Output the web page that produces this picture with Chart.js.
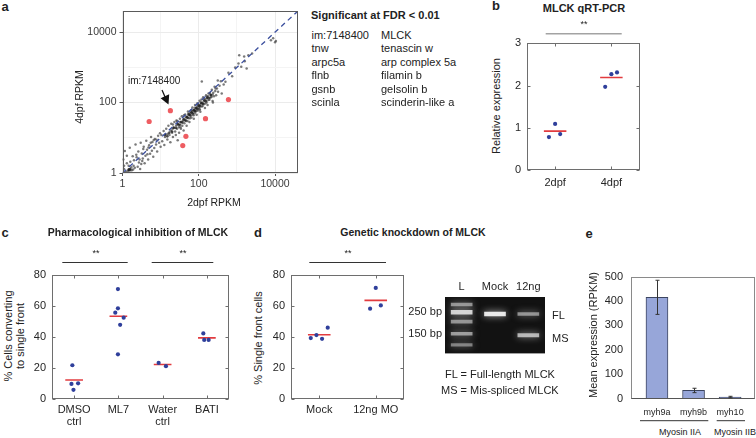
<!DOCTYPE html>
<html><head><meta charset="utf-8">
<script src="https://cdn.jsdelivr.net/npm/chart.js@4.4.1/dist/chart.umd.min.js"></script>
<style>
html,body{margin:0;padding:0;background:#fff;}
body{width:756px;height:438px;overflow:hidden;position:relative;font-family:"Liberation Sans",Arial,Helvetica,sans-serif;color:#222;}
.t{position:absolute;white-space:nowrap;line-height:1.1;}
canvas{position:absolute;}
svg{position:absolute;left:0;top:0;}
</style></head><body>
<script>
// ---------------- DATA ----------------
// Panel a: RNA-seq RPKM (2dpf, 4dpf)
const aBackgroundPoints = [
 [1.1,1.3],[1.05,2.4],[1.15,4.2],[1.25,1.1],[1.3,3.1],[1.45,1.6],[1.55,5.2],[1.6,2.1],[1.75,1.2],[1.85,3.0],
 [2.0,2.3],[2.1,1.4],[2.2,6.5],[2.35,2.8],[2.5,1.5],[2.6,4.1],[2.8,2.4],[3.0,7.2],[3.1,1.8],[3.2,3.6],
 [3.4,2.6],[3.6,5.6],[3.8,1.9],[4.0,3.1],[4.2,8.3],[4.4,4.6],[4.7,2.4],[5.0,6.1],[5.3,3.5],[5.6,10.5],
 [5.9,4.3],[6.1,7.6],[6.4,2.9],[6.8,5.1],[7.1,9.2],[7.6,6.4],[8.1,4.1],[8.6,11.5],[9.1,7.2],[9.6,13.5],
 [10,5.6],[1.5,1.3],[1.6,1.2],[1.7,1.45],[1.95,1.6],[1.3,1.9],[2.3,3.3],[1.2,1.02],[3.5,4.8],[4.8,5.3],
 [2.7,2.0],[6.6,8.6],[1.4,1.15],[1.9,1.25],[2.9,1.3],[1.1,1.6],[3.3,2.2],[5.5,7.2],[7.8,8.8],[4.5,3.4],
 [10.5,12],[11,8],[12,15.5],[12.5,6.2],[13,10.5],[14,18],[15,9],[15.5,13],[16,22],[17,12],
 [18,7.5],[18.5,16],[19,25],[20,14],[20.5,18],[21,10.5],[22,20],[23,28],[24,15],[25,12],
 [25.5,22],[26,31],[27,18],[28,8.5],[28.5,25],[30,20],[30.5,14],[32,35],[32.5,24],[34,18],
 [35,28],[36,41],[37,22],[38,30],[40,16],[40.5,35],[42,26],[44,46],[45,32],[46,38],
 [48,22],[50,40],[50.5,30],[52,56],[54,36],[55,45],[57,28],[58,50],[60,42],[62,61],
 [64,38],[65,52],[68,72],[70,46],[72,58],[74,35],[76,63],[78,50],[80,86],[82,55],
 [85,68],[88,45],[90,76],[92,96],[95,60],[98,81],[100,70],[105,112],[108,86],[110,55],
 [115,96],[118,122],[120,78],[125,101],[130,142],[135,90],[140,116],[145,70],[150,126],[155,162],
 [160,101],[165,136],[170,86],[175,151],[180,182],[190,121],[200,166],[210,141],[220,232],[230,111],
 [240,191],[250,152],[260,282],[270,212],[285,161],[300,252],[320,202],[350,302],[380,405],[400,182],
 [120,400],[315,425],[450,325],[275,250],[230,170],[107,63],[235,100],
 [500,390],[600,700],[750,560],[900,1000],[1100,1300],[1300,1050],[1600,1500],[1150,2200],[1550,2050],[2000,2200],
 [1800,930],[2500,2500],[8900,6700],[10000,5200],[7800,5900],[10500,5600],
 [14,12.5],[21,24],[27,30],[33,20],[41,44],[47,30],[53,48],[59,36],[66,60],[73,44],[79,71],[87,58],
 [96,90],[104,66],[113,103],[126,80],[137,128],[148,94],[162,150],[178,118],[196,186],[215,150]
];
const aDensePoints = [
 [13,12],[15,11],[17,14],[20,15],[22,19],[25,19],[28,24],[31,23],[33,28],[37,27],
 [40,33],[44,31],[48,39],[51,37],[55,46],[60,44],[64,53],[69,50],[74,61],[80,58],
 [86,70],[92,66],[100,82],[108,78],[118,96],[128,92],[140,112],[155,110],[170,138],[190,135],
 [210,165],[1.5,1.2],[1.6,1.3],[1.45,1.25]
];
const aSignificantPoints = [[5,29],[18,59],[600,122],[150,35],[46,11],[38,6]];
const aTickValues = [1,10,100,1000,10000];
const aTickLabels = ['1','','100','','10000'];
const aSignificantGenes = ['im:7148400','tnw','arpc5a','flnb','gsnb','scinla'];
const aGeneNames = ['MLCK','tenascin w','arp complex 5a','filamin b','gelsolin b','scinderin-like a'];

// Panel b: MLCK qRT-PCR
const bCategories = ['2dpf','4dpf'];
const bValues = [[0.78,1.09,0.85],[1.97,2.27,2.31]];
const bJitter = [[-0.11,0,0.09],[-0.11,0,0.1]];
const bMeans = [0.92,2.19];

// Panel c: pharmacological inhibition
const cCategories = [['DMSO','ctrl'],'ML7',['Water','ctrl'],'BATI'];
const cValues = [[21.7,9.7,10.1,5.9],[70.7,58.3,55.5,52.3,47.7,28.7],[23.2,21.1],[42.2,38.0,38.0]];
const cJitter = [[-0.04,-0.06,0.09,-0.015],[-0.01,-0.01,-0.07,0.12,0.04,-0.01],[-0.09,0.075],[-0.08,-0.06,0.04]];
const cMeans = [12.2,53.2,22.2,39.3];

// Panel d: genetic knockdown
const dCategories = ['Mock','12ng MO'];
const dValues = [[39.2,41.1,38.7,45.9],[58.1,71.4,60.2]];
const dJitter = [[-0.15,-0.05,0.05,0.15],[-0.1,0,0.09]];
const dMeans = [41.3,63.4];

// Gel
const gelLanes = ['L','Mock','12ng'];
const gelLadderBp = [300,250,200,150,115];
const gelLadderIntensity = [0.55,0.9,0.55,0.6,0.45];
const gelMockBp = [240];
const gelMockIntensity = [1.0];
const gel12ngBp = [240,145];
const gel12ngIntensity = [0.55,0.75];
const gelMarkerBp = [150,250];
const gelMarkerLabels = ['150 bp','250 bp'];

// Panel e: myosin expression
const eGenes = ['myh9a','myh9b','myh10'];
const eMeans = [415,33,6];
const eErrors = [70,9,3];

// ---------------- HELPERS ----------------
const FONT='"Liberation Sans", Arial, Helvetica, sans-serif';
Chart.defaults.font.family=FONT;
Chart.defaults.color='#262626';

function text(s,x,y,o={}){
  const d=document.createElement('div');
  d.className='t';
  if(Array.isArray(s)) d.innerHTML=s.join('<br>'); else d.textContent=s;
  d.style.left=x+'px'; d.style.top=y+'px';
  d.style.fontSize=(o.size||11)+'px';
  if(o.bold) d.style.fontWeight='bold';
  if(o.center) d.style.textAlign='center';
  let tr=o.left?'translate(0,-50%)':'translate(-50%,-50%)';
  if(o.rot) tr+=' rotate(-90deg)';
  d.style.transform=tr;
  document.body.appendChild(d);
}

function mk(L,T,W,H,area,cfg,xTop){
  const c=document.createElement('canvas');
  c.width=W;c.height=H;
  c.style.left=L+'px';c.style.top=T+'px';c.style.width=W+'px';c.style.height=H+'px';
  document.body.appendChild(c);
  const o=cfg.options;
  o.responsive=false;o.animation=false;o.maintainAspectRatio=false;
  o.plugins=Object.assign({legend:{display:false},tooltip:{enabled:false}},o.plugins||{});
  if(xTop){
    o.layout={padding:{top:0,right:L+W-area.r,left:0,bottom:T+H-area.b}};
    o.scales.x.afterFit=s=>{s.height=area.t-T;};
  }else{
    o.layout={padding:{top:area.t-T,right:L+W-area.r,left:0,bottom:0}};
    o.scales.x.afterFit=s=>{s.height=T+H-area.b;};
  }
  o.scales.y.afterFit=s=>{s.width=area.l-L;};
  return new Chart(c,cfg);
}

function frame(color,inward,bottomColor){
  return {id:'frame',afterDatasetsDraw(chart){
    const {ctx,chartArea:a,scales}=chart;
    ctx.save();ctx.strokeStyle=color;ctx.lineWidth=1;
    const L=Math.round(a.left)+0.5,R=Math.round(a.right)-0.5,Tp=Math.round(a.top)+0.5,B=Math.round(a.bottom)-0.5;
    ctx.strokeRect(L,Tp,R-L,B-Tp);
    if(inward){
      ctx.beginPath();
      scales.y.ticks.forEach(t=>{const y=Math.round(scales.y.getPixelForValue(t.value))+0.5;
        ctx.moveTo(L,y);ctx.lineTo(L+inward,y);ctx.moveTo(R,y);ctx.lineTo(R-inward,y);});
      scales.x.ticks.forEach(t=>{const x=Math.round(scales.x.getPixelForValue(t.value))+0.5;
        ctx.moveTo(x,B);ctx.lineTo(x,B-inward);ctx.moveTo(x,Tp);ctx.lineTo(x,Tp+inward);});
      ctx.stroke();
    }
    if(bottomColor){ctx.strokeStyle=bottomColor;ctx.beginPath();ctx.moveTo(L,B);ctx.lineTo(R,B);ctx.stroke();}
    ctx.restore();
  }};
}

const DOT='#2f3f9b', RED='#e23b3f';
function dotPlot(L,T,W,H,area,cats,values,jitter,means,ymax,ystep,labelPad){
  const ds=[{
    type:'scatter',
    data:values.flatMap((arr,i)=>arr.map((v,j)=>({x:i+1+jitter[i][j],y:v}))),
    backgroundColor:DOT,pointRadius:2.1,borderWidth:0
  }];
  means.forEach((m,i)=>ds.push({type:'line',data:[{x:i+1-0.2,y:m},{x:i+1+0.2,y:m}],
    borderColor:RED,borderWidth:1.6,pointRadius:0}));
  return mk(L,T,W,H,area,{type:'scatter',data:{datasets:ds},plugins:[frame('#6e6e6e',3)],
    options:{scales:{
      x:{type:'linear',min:0.5,max:cats.length+0.5,
        afterBuildTicks:s=>{s.ticks=cats.map((_,i)=>({value:i+1}));},
        ticks:{callback:(v,i)=>cats[i],font:{size:11,lineHeight:1.1},padding:labelPad,autoSkip:false,maxRotation:0,color:'#262626'},
        grid:{display:false,drawTicks:false},border:{display:false}},
      y:{type:'linear',min:0,max:ymax,ticks:{stepSize:ystep,font:{size:11},padding:6,color:'#262626'},
        grid:{display:false,drawTicks:false},border:{display:false}}
    }}});
}

// ---------------- PANEL A ----------------
mk(65,0,245,200,{l:122.5,t:11,r:298,b:173},{
  type:'scatter',
  data:{datasets:[
    {data:aSignificantPoints.map(p=>({x:p[0],y:p[1]})),backgroundColor:'#ee5d62',pointRadius:2.6,borderWidth:0},
    {type:'line',data:[{x:1,y:1},{x:40000,y:40000}],borderColor:'#3b4f9e',borderDash:[5,4],borderWidth:1.3,pointRadius:0},
    {data:aDensePoints.map(p=>({x:p[0],y:p[1]})),backgroundColor:'rgba(30,30,30,0.8)',pointRadius:1.3,borderWidth:0},
    {data:aBackgroundPoints.map(p=>({x:p[0],y:p[1]})),backgroundColor:'rgba(70,70,70,0.72)',pointRadius:1.25,borderWidth:0}
  ]},
  plugins:[frame('#5a5a5a',0)],
  options:{scales:{
    x:{type:'logarithmic',min:1,max:40000,
      afterBuildTicks:s=>{s.ticks=aTickValues.map(v=>({value:v}));},
      ticks:{callback:(v,i)=>aTickLabels[i],font:{size:10.5},padding:2,autoSkip:false,maxRotation:0,color:'#3a3a3a'},
      grid:{color:c=>aTickLabels[c.index]?'#ebebeb':'#f4f4f4',tickColor:c=>aTickLabels[c.index]?'#555':'rgba(0,0,0,0)',tickLength:3,drawTicks:true},
      border:{display:false}},
    y:{type:'logarithmic',min:1,max:40000,
      afterBuildTicks:s=>{s.ticks=aTickValues.map(v=>({value:v}));},
      ticks:{callback:(v,i)=>aTickLabels[i],font:{size:10.5},padding:3,autoSkip:false,color:'#3a3a3a'},
      grid:{color:c=>aTickLabels[c.index]?'#ebebeb':'#f4f4f4',tickColor:c=>aTickLabels[c.index]?'#555':'rgba(0,0,0,0)',tickLength:3,drawTicks:true},
      border:{display:false}}
  }}
});

// ---------------- PANEL B ----------------
dotPlot(505,30,145,165,{l:527,t:43.3,r:639.5,b:170},bCategories,bValues,bJitter,bMeans,3,1,6.5);
// ---------------- PANEL C ----------------
dotPlot(30,262,205,170,{l:52,t:272.7,r:229,b:399},cCategories,cValues,cJitter,cMeans,80,20,5);
// ---------------- PANEL D ----------------
dotPlot(268,262,145,170,{l:291,t:272.7,r:404,b:399},dCategories,dValues,dJitter,dMeans,80,20,5);

// ---------------- GEL ----------------
(function(){
  const bands=[];
  const add=(lane,bps,ints)=>bps.forEach((bp,k)=>bands.push({lane,bp,i:ints[k]}));
  add('L',gelLadderBp,gelLadderIntensity);
  add('Mock',gelMockBp,gelMockIntensity);
  add('12ng',gel12ngBp,gel12ngIntensity);
  const ds=bands.map(b=>{const f=1.02+0.028*b.i;const g=Math.round(150+100*b.i);return {
    data:gelLanes.map(l=>l===b.lane?[b.bp/f,b.bp*f]:null),
    backgroundColor:'rgba('+g+','+g+','+g+','+(0.3+0.6*b.i)+')',borderWidth:0,
    grouped:false,barThickness:21};});
  const gelBg={id:'gelbg',beforeDatasetsDraw(chart){const {ctx,chartArea:a}=chart;
      ctx.save();ctx.fillStyle='#121212';ctx.fillRect(a.left,a.top,a.right-a.left,a.bottom-a.top);
      ctx.shadowColor='rgba(210,210,210,0.9)';ctx.shadowBlur=7;},
    afterDatasetsDraw(chart){chart.ctx.restore();}};
  mk(398,277,152,86,{l:445,t:297,r:545,b:360},{type:'bar',data:{labels:gelLanes,datasets:ds},plugins:[gelBg],
    options:{scales:{
      x:{type:'category',position:'top',offset:true,ticks:{font:{size:11},padding:3,color:'#262626'},grid:{display:false,drawTicks:false},border:{display:false}},
      y:{type:'logarithmic',min:94,max:359,afterBuildTicks:s=>{s.ticks=gelMarkerBp.map(v=>({value:v}));},
        ticks:{callback:(v,i)=>gelMarkerLabels[i],font:{size:11},padding:3,color:'#262626'},grid:{display:false,drawTicks:false},border:{display:false}}
    }}},true);
})();

// ---------------- PANEL E ----------------
const errPlugin={id:'err',afterDatasetsDraw(chart){
  const {ctx,scales:{x,y}}=chart;ctx.save();ctx.strokeStyle='#333';ctx.lineWidth=1;
  eMeans.forEach((m,i)=>{const px=Math.round(x.getPixelForValue(i+1))+0.5;
    const y1=y.getPixelForValue(m+eErrors[i]),y2=y.getPixelForValue(m-eErrors[i]);
    ctx.beginPath();ctx.moveTo(px,y1);ctx.lineTo(px,y2);
    ctx.moveTo(px-2,y1);ctx.lineTo(px+2,y1);ctx.moveTo(px-2,y2);ctx.lineTo(px+2,y2);ctx.stroke();});
  ctx.restore();}};
mk(600,262,156,160,{l:631,t:273,r:755,b:398.5},{
  type:'bar',
  data:{datasets:[{data:eMeans.map((v,i)=>({x:i+1,y:v})),backgroundColor:'#97a6d9',borderColor:'#3c4560',borderWidth:1,barThickness:22}]},
  plugins:[frame('#8a8a8a',0,'#555'),errPlugin],
  options:{scales:{
    x:{type:'linear',offset:false,min:0.29,max:3.68,afterBuildTicks:s=>{s.ticks=eGenes.map((_,i)=>({value:i+1}));},
      ticks:{callback:(v,i)=>eGenes[i],font:{size:9},padding:9,autoSkip:false,maxRotation:0,color:'#262626'},
      grid:{display:false,drawTicks:false,offset:false},border:{display:false}},
    y:{type:'linear',min:0,max:500,ticks:{stepSize:100,font:{size:11},padding:8,color:'#262626'},
      grid:{display:false,drawTicks:false},border:{display:false}}
  }}
});

// ---------------- TEXT ----------------
text('a',5,7,{size:13,bold:true});
text('b',496,6,{size:13,bold:true});
text('c',5,233,{size:13,bold:true});
text('d',258,233,{size:13,bold:true});
text('e',589,234,{size:13,bold:true});

// panel a
text('2dpf RPKM',214,203,{size:10.5});
text('4dpf RPKM',80,97,{size:10.5,rot:true});
text('im:7148400',128,80,{size:10,left:true});
text('Significant at FDR < 0.01',311,15,{size:11,bold:true,left:true});
const rowY=[34.5,48,61.5,75,88.5,102];
aSignificantGenes.forEach((g,i)=>{text(g,311.5,rowY[i],{left:true});text(aGeneNames[i],381,rowY[i],{left:true});});

// panel b
text('MLCK qRT-PCR',584,7.5,{size:11,bold:true});
text('**',584,25,{size:9});
text('Relative expression',496,106,{rot:true});

// panel c
text('Pharmacological inhibition of MLCK',138,233,{size:10.5,bold:true});
text('**',96,254,{size:9});
text('**',183,254,{size:9});
text(['% Cells converting','to single front'],13.5,336,{rot:true,center:true});

// panel d
text('Genetic knockdown of MLCK',413,233,{size:10.5,bold:true});
text('**',348,254,{size:9});
text('% Single front cells',258,338,{rot:true});
text('FL',552,315,{left:true});
text('MS',552,338,{left:true});
text('FL = Full-length MLCK',445,374,{left:true});
text('MS = Mis-spliced MLCK',441,390,{left:true});

// panel e
text('Mean expression (RPKM)',593,335,{rot:true});
text('Myosin IIA',680,433,{size:9});
text('Myosin IIB',735,433,{size:9});

// lines & arrow
const svgNS='http://www.w3.org/2000/svg';
const svg=document.createElementNS(svgNS,'svg');
svg.setAttribute('width','756');svg.setAttribute('height','438');
svg.innerHTML=
 '<line x1="545.7" y1="33.7" x2="621.7" y2="33.7" stroke="#a3a3a3" stroke-width="1.5"/>'+
 '<line x1="62.3" y1="262.5" x2="127.7" y2="262.5" stroke="#333" stroke-width="1"/>'+
 '<line x1="151.7" y1="262.5" x2="213.3" y2="262.5" stroke="#333" stroke-width="1"/>'+
 '<line x1="309.3" y1="262.5" x2="386" y2="262.5" stroke="#333" stroke-width="1"/>'+
 '<line x1="640" y1="420.7" x2="708.3" y2="420.7" stroke="#333" stroke-width="1"/>'+
 '<line x1="716.7" y1="420.7" x2="745" y2="420.7" stroke="#333" stroke-width="1"/>'+
 '<line x1="162" y1="90" x2="165.5" y2="98" stroke="#111" stroke-width="1.2"/>'+
 '<polygon points="168.5,104.5 169.2,94.3 160.6,98.2" fill="#111"/>';
document.body.appendChild(svg);
</script>
</body></html>
